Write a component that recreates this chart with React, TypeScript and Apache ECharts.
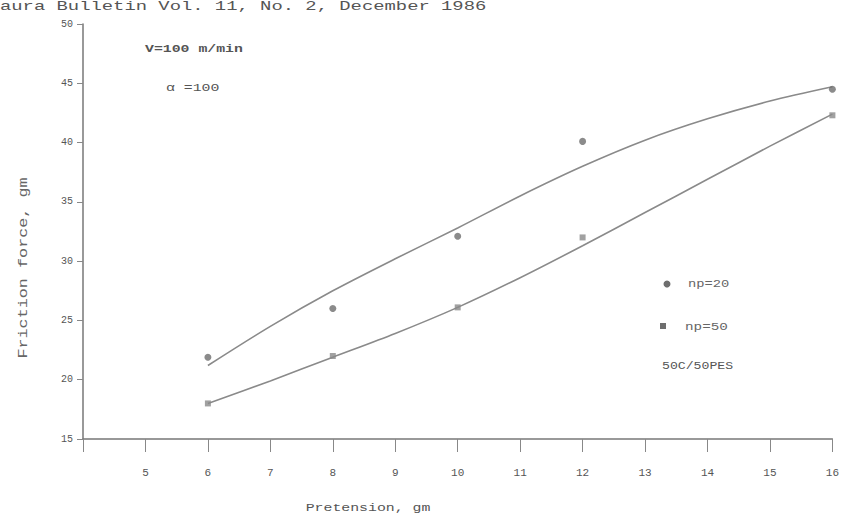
import React, { useEffect, useRef } from "react";
import * as echarts from "echarts";

const xTicks = [4, 5, 6, 7, 8, 9, 10, 11, 12, 13, 14, 15, 16];
const yTicks = [15, 20, 25, 30, 35, 40, 45, 50];

// measured points
const np20Points = [
  [6, 21.9],
  [8, 26.0],
  [10, 32.1],
  [12, 40.1],
  [16, 44.5],
];
const np50Points = [
  [6, 18.0],
  [8, 22.0],
  [10, 26.1],
  [12, 32.0],
  [16, 42.3],
];
// fitted curves
const upperCurve = [
  [6, 21.2],
  [7, 24.5],
  [8, 27.5],
  [9, 30.2],
  [10, 32.8],
  [11, 35.5],
  [12, 38.0],
  [13, 40.2],
  [14, 42.0],
  [15, 43.5],
  [16, 44.7],
];
const lowerCurve = [
  [6, 18.0],
  [7, 19.9],
  [8, 21.9],
  [9, 23.9],
  [10, 26.1],
  [11, 28.6],
  [12, 31.3],
  [13, 34.1],
  [14, 36.9],
  [15, 39.7],
  [16, 42.4],
];

const headerText = "aura Bulletin Vol. 11, No. 2, December 1986";
const yName = "Friction force, gm";
const xName = "Pretension, gm";
const note1 = "V=100 m/min";
const note2 = "\u03b1 =100";
const legend1 = "np=20";
const legend2 = "np=50";
const blendText = "50C/50PES";

const FONT = "'Liberation Mono', 'DejaVu Sans Mono', monospace";

export default function App() {
  const ref = useRef<HTMLDivElement>(null);
  useEffect(() => {
    if (!ref.current) return;
    const chart = echarts.init(ref.current, undefined, { renderer: "svg" });
    const txt = (text: string, x: number, y: number, size: number, color: string, sx = 1.3, extra: any = {}) => ({
      type: "text",
      x,
      y,
      scaleX: sx,
      style: {
        text,
        fontFamily: FONT,
        fontSize: size,
        fill: color,
        textVerticalAlign: "middle",
        ...extra.style,
      },
      ...extra.el,
    });
    chart.setOption({
      animation: false,
      backgroundColor: "#ffffff",
      grid: { left: 83, right: 7, top: 24, bottom: 82, containLabel: false },
      xAxis: {
        type: "value",
        min: xTicks[0],
        max: xTicks[xTicks.length - 1],
        interval: 1,
        axisLine: { show: true, onZero: false, lineStyle: { color: "#777", width: 1.5 } },
        axisTick: { show: true, length: 13, lineStyle: { color: "#888", width: 1 } },
        splitLine: { show: false },
        axisLabel: {
          margin: 28,
          color: "#555",
          fontFamily: FONT,
          fontSize: 11,
          formatter: (v: number) => (v === xTicks[0] ? "" : String(v)),
        },
      },
      yAxis: {
        type: "value",
        min: yTicks[0],
        max: yTicks[yTicks.length - 1],
        interval: 5,
        axisLine: { show: true, lineStyle: { color: "#777", width: 1.5 } },
        axisTick: { show: true, length: 6, lineStyle: { color: "#888", width: 1 } },
        splitLine: { show: false },
        axisLabel: { margin: 10, color: "#555", fontFamily: FONT, fontSize: 10 },
      },
      series: [
        {
          type: "line",
          data: upperCurve,
          smooth: 0.3,
          symbol: "none",
          lineStyle: { color: "#8a8a8a", width: 1.6 },
          z: 2,
        },
        {
          type: "line",
          data: lowerCurve,
          smooth: 0.3,
          symbol: "none",
          lineStyle: { color: "#8a8a8a", width: 1.6 },
          z: 2,
        },
        {
          type: "scatter",
          data: np20Points,
          symbol: "circle",
          symbolSize: 7,
          itemStyle: { color: "#6e6e6e" },
          z: 3,
        },
        {
          type: "scatter",
          data: np50Points,
          symbol: "rect",
          symbolSize: 6,
          itemStyle: { color: "#8a8a8a" },
          z: 3,
        },
      ],
      graphic: [
        txt(headerText, 0, 7, 13, "#555", 1.45),
        txt(note1, 145, 49, 11, "#555", 1.35, { style: { fontWeight: "bold" } }),
        txt(note2, 166, 88, 11, "#555", 1.35),
        {
          type: "circle",
          shape: { cx: 667, cy: 284, r: 3.5 },
          style: { fill: "#6e6e6e" },
        },
        txt(legend1, 688, 284, 11, "#666", 1.25),
        {
          type: "rect",
          shape: { x: 660, y: 323, width: 6, height: 6 },
          style: { fill: "#6e6e6e" },
        },
        txt(legend2, 685, 327, 11, "#666", 1.3),
        txt(blendText, 662, 366, 11, "#555", 1.2),
        txt(yName, 24, 268, 12, "#666", 1.4, {
          el: { rotation: Math.PI / 2 },
          style: { textAlign: "center" },
        }),
        txt(xName, 368, 508, 11, "#555", 1.35, { style: { textAlign: "center" } }),
      ],
    });
    return () => chart.dispose();
  }, []);
  return <div ref={ref} style={{ width: 842, height: 521, position: "absolute", left: 0, top: 0 }} />;
}
